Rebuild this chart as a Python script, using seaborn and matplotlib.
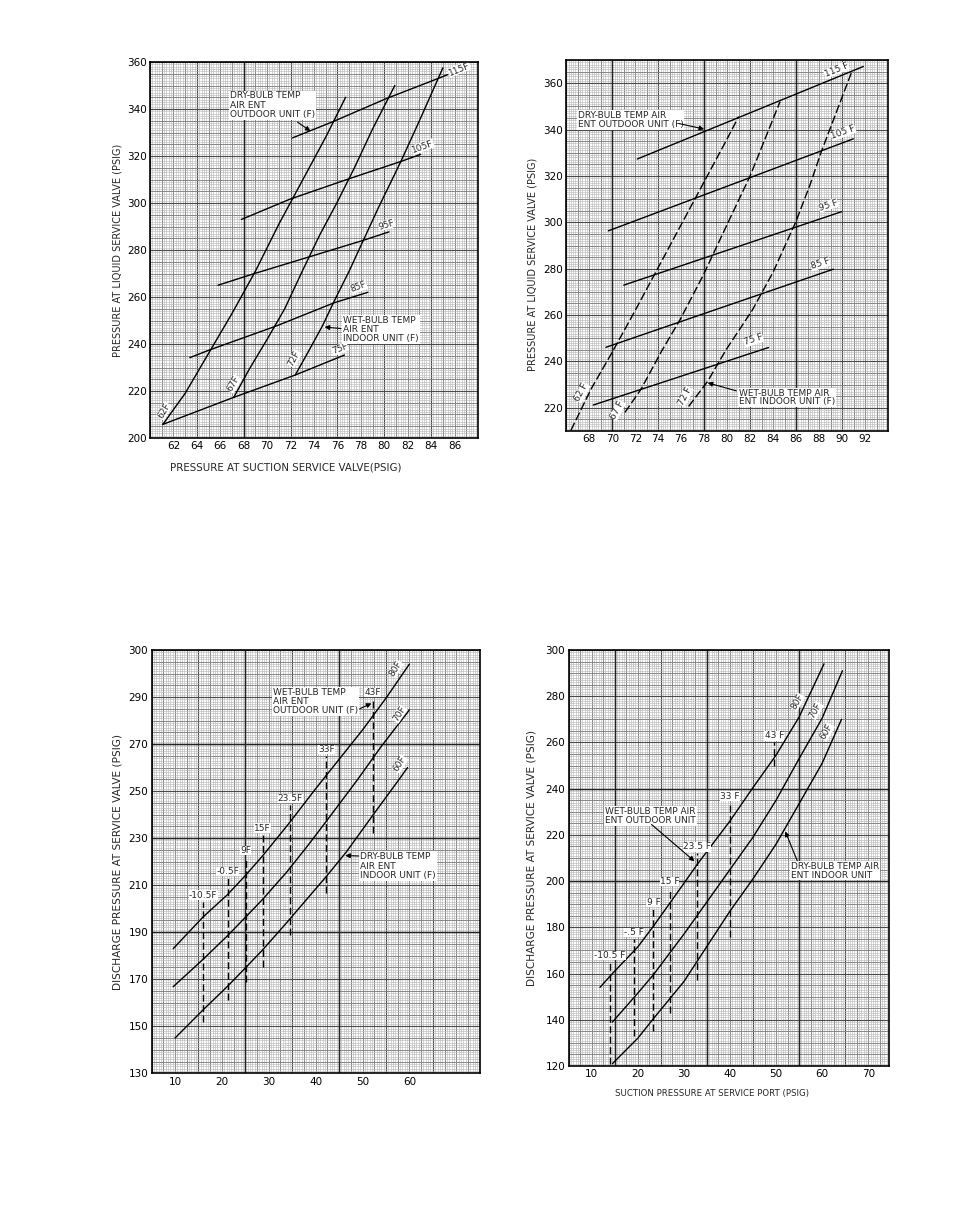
import numpy as np
import matplotlib
matplotlib.use("Agg")
import matplotlib.pyplot as plt
import seaborn as sns

# Four heat-pump charging charts drawn on graph paper

sns.set_theme(style="white")
plt.rcParams['font.family'] = ['DejaVu Sans']

# ---------------- data ----------------

# top left: liquid pressure vs suction pressure
p1_xticks = [62, 64, 66, 68, 70, 72, 74, 76, 78, 80, 82, 84, 86]
p1_yticks = [200, 220, 240, 260, 280, 300, 320, 340, 360]
p1_62_x = [61.1, 63.0, 65.0, 67.0, 69.0, 71.0, 73.0, 75.0, 76.7]
p1_62_y = [205.8, 219.0, 236.0, 253.0, 271.0, 291.0, 309.5, 328.0, 345.0]
p1_67_x = [67.15, 68.5, 70.0, 71.5, 73.0, 74.5, 76.0, 77.5, 79.0, 80.9]
p1_67_y = [217.3, 229.5, 242.0, 255.0, 271.0, 286.5, 300.5, 315.5, 331.5, 350.0]
p1_72_x = [72.4, 73.6, 74.75, 75.7, 77.0, 78.2, 79.5, 81.4, 83.0, 85.0]
p1_72_y = [226.8, 237.5, 248.0, 258.0, 271.0, 284.0, 298.0, 317.5, 335.0, 357.5]
p1_75_x = [61.1, 67.15, 72.4, 76.6]
p1_75_y = [205.8, 217.3, 226.8, 235.3]
p1_85_x = [63.4, 65.1, 70.8, 75.7, 78.6]
p1_85_y = [234.2, 237.5, 247.7, 257.5, 262.0]
p1_95_x = [65.8, 68.8, 74.0, 78.2, 80.4]
p1_95_y = [265.0, 269.8, 277.7, 284.1, 287.7]
p1_105_x = [67.8, 71.93, 77.04, 81.43, 83.1]
p1_105_y = [293.0, 301.6, 310.4, 317.7, 320.7]
p1_115_x = [72.16, 75.56, 80.16, 84.55, 85.4]
p1_115_y = [327.7, 334.5, 344.4, 352.9, 354.6]

# top right
p2_xticks = [68, 70, 72, 74, 76, 78, 80, 82, 84, 86, 88, 90, 92]
p2_yticks = [220, 240, 260, 280, 300, 320, 340, 360]
p2_62_x = [66.4, 68.2, 70.0, 72.0, 74.0, 76.0, 78.0, 80.0, 81.0]
p2_62_y = [210.3, 228.5, 244.0, 262.0, 280.5, 299.0, 317.5, 336.0, 345.6]
p2_67_x = [71.1, 72.5, 74.3, 75.9, 77.9, 79.8, 82.0, 84.6]
p2_67_y = [218.0, 228.0, 244.5, 258.0, 277.0, 297.0, 320.0, 352.0]
p2_72_x = [76.65, 78.3, 79.9, 82.2, 84.0, 86.0, 87.2, 88.2, 90.85]
p2_72_y = [220.6, 231.4, 245.0, 262.2, 278.5, 300.5, 316.0, 330.5, 365.0]
p2_75_x = [68.35, 83.6]
p2_75_y = [221.2, 246.0]
p2_85_x = [69.45, 89.25]
p2_85_y = [246.1, 279.8]
p2_95_x = [71.0, 89.97]
p2_95_y = [272.9, 304.6]
p2_105_x = [69.65, 90.98]
p2_105_y = [296.3, 336.0]
p2_115_x = [72.18, 91.85]
p2_115_y = [327.3, 367.2]

# bottom left: discharge pressure vs suction pressure (heating)
p3_xticks = [10, 20, 30, 40, 50, 60]
p3_yticks = [130, 150, 170, 190, 210, 230, 250, 270, 290, 310]
p3_ytick_labels = ["130", "150", "170", "190", "210", "230", "250", "270", "290", "300"]
p3_80_x = [9.6, 16.0, 21.2, 25.1, 28.7, 34.2, 40.0, 45.0, 50.0, 55.0, 60.0]
p3_80_y = [183.0, 196.5, 206.0, 214.3, 222.5, 236.0, 251.0, 263.5, 276.0, 289.5, 304.0]
p3_70_x = [9.6, 16.0, 21.2, 25.1, 28.7, 33.8, 38.0, 42.4, 48.8, 54.0, 60.0]
p3_70_y = [166.8, 178.5, 188.5, 196.5, 204.0, 215.5, 226.0, 237.5, 254.5, 269.0, 284.5]
p3_60_x = [10.0, 16.0, 21.2, 25.1, 28.7, 33.8, 42.4, 46.5, 52.3, 58.0, 59.6]
p3_60_y = [145.0, 157.0, 167.0, 175.0, 182.5, 194.0, 214.0, 224.0, 240.0, 255.5, 260.0]
p3_wb_labels = ["-10.5F", "-0.5F", "9F", "15F", "23.5F", "33F", "43F"]
p3_wb_x = [16.0, 21.2, 25.1, 28.7, 34.6, 42.3, 52.2]
p3_wb_lo = [152.0, 161.0, 169.0, 175.0, 189.0, 206.5, 232.0]
p3_wb_hi = [203.0, 213.0, 222.0, 231.5, 244.0, 265.0, 289.0]

# bottom right
p4_xticks = [10, 20, 30, 40, 50, 60, 70]
p4_yticks = [120, 140, 160, 180, 200, 220, 240, 260, 280, 300]
p4_80_x = [11.8, 14.5, 20.0, 23.4, 30.0, 33.0, 40.0, 45.0, 50.0, 55.0, 60.4]
p4_80_y = [154.0, 160.0, 171.5, 180.5, 199.0, 207.5, 226.0, 240.5, 254.5, 271.0, 294.0]
p4_70_x = [14.5, 20.0, 23.4, 30.0, 40.0, 45.0, 50.0, 55.0, 60.0, 64.4]
p4_70_y = [139.0, 151.5, 159.5, 177.0, 205.0, 219.0, 235.0, 253.0, 270.5, 291.0]
p4_60_x = [14.5, 20.0, 23.4, 30.0, 40.0, 45.0, 50.0, 55.0, 60.0, 64.2]
p4_60_y = [121.0, 132.0, 140.5, 156.5, 187.0, 201.0, 216.0, 233.5, 251.0, 270.0]
p4_wb_labels = ["-10.5 F", "-.5 F", "9 F", "15 F", "23.5 F", "33 F", "43 F"]
p4_wb_x = [14.0, 19.2, 23.4, 26.9, 32.8, 40.0, 49.6]
p4_wb_lo = [121.0, 133.0, 135.0, 143.0, 157.0, 176.0, 250.0]
p4_wb_hi = [165.0, 175.0, 188.0, 197.0, 212.0, 234.0, 260.0]

# ---------------- helpers ----------------

FS_TICK = 7.5
FS_NOTE = 6.5
WHITE = dict(facecolor='white', edgecolor='none', pad=0.15)


def graph_paper(ax, xlim, ylim, x_steps, x_anchor, y_steps, y_anchor, x_heavy, y_heavy):
    shades = [('#b4b4b4', 0.4), ('#7c7c7c', 0.6), ('#4a4a4a', 0.8)]
    for step, (col, lw) in zip(x_steps, shades):
        start = x_anchor + np.ceil((xlim[0] - x_anchor) / step) * step
        ax.vlines(np.arange(start, xlim[1] + step * 0.01, step), ylim[0], ylim[1],
                  colors=col, linewidth=lw, zorder=0.5)
    for step, (col, lw) in zip(y_steps, shades):
        start = y_anchor + np.ceil((ylim[0] - y_anchor) / step) * step
        ax.hlines(np.arange(start, ylim[1] + step * 0.01, step), xlim[0], xlim[1],
                  colors=col, linewidth=lw, zorder=0.5)
    if len(x_heavy):
        ax.vlines(x_heavy, ylim[0], ylim[1], colors='#222222', linewidth=1.05, zorder=0.6)
    if len(y_heavy):
        ax.hlines(y_heavy, xlim[0], xlim[1], colors='#222222', linewidth=1.05, zorder=0.6)
    ax.set_xlim(*xlim)
    ax.set_ylim(*ylim)


def curve(ax, xs, ys, dashed=False):
    if dashed:
        sns.lineplot(x=xs, y=ys, ax=ax, color='black', linewidth=1.0, sort=False,
                     estimator=None, linestyle=(0, (6, 2.2)), zorder=3)
    else:
        sns.lineplot(x=xs, y=ys, ax=ax, color='black', linewidth=1.0, sort=False,
                     estimator=None, zorder=3)


def tag(ax, x, y, s, rot=0, ha='center'):
    ax.text(x, y, s, fontsize=6.5, rotation=rot, rotation_mode='anchor', ha=ha,
            va='center', bbox=WHITE, zorder=4)


def note(ax, x, y, s, tail, tip, ls=1.05):
    ax.text(x, y, s, fontsize=FS_NOTE, ha='left', va='center', linespacing=ls,
            bbox=dict(facecolor='white', edgecolor='none', pad=0.6), zorder=4)
    ax.annotate("", xy=tip, xytext=tail, zorder=5,
                arrowprops=dict(arrowstyle='-|>', color='black', lw=0.8,
                                mutation_scale=7, shrinkA=0, shrinkB=0))


def finish(ax, xticks, yticks, ylabels=None):
    ax.set_xticks(xticks)
    ax.set_yticks(yticks)
    if ylabels is not None:
        ax.set_yticklabels(ylabels)
    ax.tick_params(length=0, pad=2.5, labelsize=FS_TICK, colors='black')
    for sp in ax.spines.values():
        sp.set_visible(True)
        sp.set_color('black')
        sp.set_linewidth(1.2)
        sp.set_zorder(6)


fig = plt.figure(figsize=(9.54, 12.17), dpi=100)

# ---------------- panel 1 ----------------
ax1 = fig.add_axes([150 / 954, 1 - 438 / 1217, 328 / 954, 376 / 1217])
graph_paper(ax1, (60, 88), (200, 360), (0.2, 1, 4), 60, (1, 5, 20), 200, [68], [])
for xs, ys in [(p1_62_x, p1_62_y), (p1_67_x, p1_67_y), (p1_72_x, p1_72_y),
               (p1_75_x, p1_75_y), (p1_85_x, p1_85_y), (p1_95_x, p1_95_y),
               (p1_105_x, p1_105_y), (p1_115_x, p1_115_y)]:
    curve(ax1, xs, ys)
tag(ax1, 86.4, 357.0, "115F", 22)
tag(ax1, 83.3, 324.0, "105F", 20)
tag(ax1, 80.2, 290.8, "95F", 18)
tag(ax1, 77.8, 264.2, "85F", 20)
tag(ax1, 76.2, 237.9, "75F", 21)
tag(ax1, 61.2, 211.5, "62F", 60)
tag(ax1, 67.15, 223.0, "67F", 60)
tag(ax1, 72.3, 233.8, "72F", 62)
note(ax1, 66.8, 341.6, "DRY-BULB TEMP\nAIR ENT\nOUTDOOR UNIT (F)", (72.6, 334.4), (73.7, 330.6))
note(ax1, 76.5, 246.2, "WET-BULB TEMP\nAIR ENT\nINDOOR UNIT (F)", (76.3, 246.6), (74.9, 247.2))
finish(ax1, p1_xticks, p1_yticks)
ax1.set_ylabel("PRESSURE AT LIQUID SERVICE VALVE (PSIG)", fontsize=7.0)
ax1.yaxis.set_label_coords(-0.085, 0.5)
ax1.set_xlabel("PRESSURE AT SUCTION SERVICE VALVE(PSIG)", fontsize=7.4)
ax1.xaxis.set_label_coords(0.415, -0.066)

# ---------------- panel 2 ----------------
ax2 = fig.add_axes([566.3 / 954, 1 - 431 / 1217, 321.7 / 954, 371 / 1217])
graph_paper(ax2, (66, 94), (210, 370), (0.2, 1, 4), 66, (1, 5, 20), 200, [70, 78, 86], [])
for xs, ys in [(p2_62_x, p2_62_y), (p2_67_x, p2_67_y), (p2_72_x, p2_72_y)]:
    curve(ax2, xs, ys, dashed=True)
for xs, ys in [(p2_75_x, p2_75_y), (p2_85_x, p2_85_y), (p2_95_x, p2_95_y),
               (p2_105_x, p2_105_y), (p2_115_x, p2_115_y)]:
    curve(ax2, xs, ys)
tag(ax2, 89.5, 365.8, "115 F", 22)
tag(ax2, 90.1, 338.8, "105 F", 20)
tag(ax2, 88.8, 307.4, "95 F", 18)
tag(ax2, 88.1, 282.0, "85 F", 18)
tag(ax2, 82.3, 249.2, "75 F", 18)
tag(ax2, 67.35, 226.5, "62 F", 62)
tag(ax2, 70.45, 219.0, "67 F", 62)
tag(ax2, 76.35, 225.0, "72 F", 62)
note(ax2, 67.0, 344.1, "DRY-BULB TEMP AIR\nENT OUTDOOR UNIT (F)", (75.8, 342.6), (78.0, 340.2), 0.95)
note(ax2, 81.05, 224.5, "WET-BULB TEMP AIR\nENT INDOOR UNIT (F)", (80.8, 227.3), (78.3, 230.8), 0.95)
finish(ax2, p2_xticks, p2_yticks)
ax2.set_ylabel("PRESSURE AT LIQUID SERVICE VALVE (PSIG)", fontsize=7.0)
ax2.yaxis.set_label_coords(-0.088, 0.45)

# ---------------- panel 3 ----------------
ax3 = fig.add_axes([151.6 / 954, 1 - 1073.3 / 1217, 328.1 / 954, 423.3 / 1217])
graph_paper(ax3, (5, 75), (130, 310), (0.5, 2.5, 10), 5, (1, 5, 20), 130,
            [25, 45], [190, 230, 270])
for xs, ys in [(p3_80_x, p3_80_y), (p3_70_x, p3_70_y), (p3_60_x, p3_60_y)]:
    curve(ax3, xs, ys)
ax3.vlines(p3_wb_x, p3_wb_lo, p3_wb_hi, colors='black', linewidth=1.0,
           linestyles=(0, (5, 2.5)), zorder=3)
for lab, x, hi in zip(p3_wb_labels, p3_wb_x, p3_wb_hi):
    tag(ax3, x, hi + 2.8, lab)
tag(ax3, 57.1, 302.0, "80F", 58)
tag(ax3, 57.8, 282.8, "70F", 58)
tag(ax3, 58.0, 261.5, "60F", 58)
note(ax3, 30.9, 288.1, "WET-BULB TEMP\nAIR ENT\nOUTDOOR UNIT (F)", (49.4, 285.0), (51.9, 287.3))
note(ax3, 49.5, 218.1, "DRY-BULB TEMP\nAIR ENT\nINDOOR UNIT (F)", (49.2, 222.4), (46.3, 222.6))
finish(ax3, p3_xticks, p3_yticks, p3_ytick_labels)
ax3.set_ylabel("DISCHARGE PRESSURE AT SERVICE VALVE (PSIG)", fontsize=7.6)
ax3.yaxis.set_label_coords(-0.09, 0.5)

# ---------------- panel 4 ----------------
ax4 = fig.add_axes([568.6 / 954, 1 - 1066 / 1217, 320.4 / 954, 416 / 1217])
graph_paper(ax4, (5, 74.5), (120, 300), (0.5, 2.5, 10), 5, (1, 5, 20), 120,
            [15, 35, 55], [200, 240])
for xs, ys in [(p4_80_x, p4_80_y), (p4_70_x, p4_70_y), (p4_60_x, p4_60_y)]:
    curve(ax4, xs, ys)
ax4.vlines(p4_wb_x, p4_wb_lo, p4_wb_hi, colors='black', linewidth=1.0,
           linestyles=(0, (5, 2.5)), zorder=3)
for lab, x, hi in zip(p4_wb_labels, p4_wb_x, p4_wb_hi):
    tag(ax4, x, hi + 2.8, lab)
tag(ax4, 54.6, 277.5, "80F", 60)
tag(ax4, 58.6, 273.8, "70F", 60)
tag(ax4, 61.0, 264.5, "60F", 60)
note(ax4, 12.9, 228.2, "WET-BULB TEMP AIR\nENT OUTDOOR UNIT", (23.0, 224.5), (32.3, 208.6), 0.95)
note(ax4, 53.2, 204.5, "DRY-BULB TEMP AIR\nENT INDOOR UNIT", (54.6, 208.8), (52.0, 221.5), 0.95)
finish(ax4, p4_xticks, p4_yticks)
ax4.set_ylabel("DISCHARGE PRESSURE AT SERVICE VALVE (PSIG)", fontsize=7.6)
ax4.yaxis.set_label_coords(-0.099, 0.5)
ax4.set_xlabel("SUCTION PRESSURE AT SERVICE PORT (PSIG)", fontsize=6.2)
ax4.xaxis.set_label_coords(0.448, -0.055)

fig.savefig("out.png", dpi=100)
